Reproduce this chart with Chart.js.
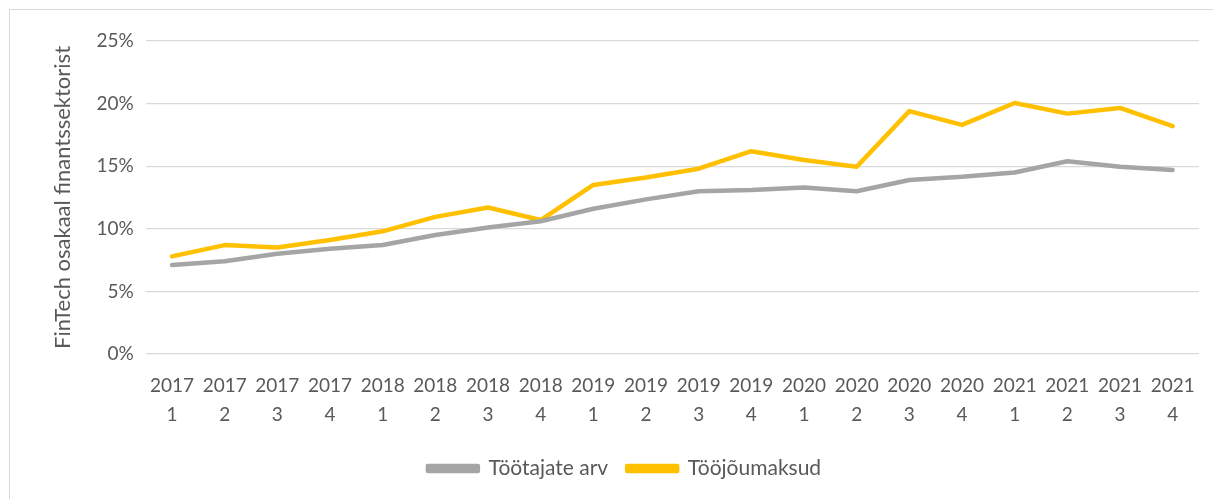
<!DOCTYPE html>
<html>
<head>
<meta charset="utf-8">
<script src="https://cdn.jsdelivr.net/npm/chart.js@4"></script>
<style>
    body { margin: 0; background: #fff; }
    #frame { position: absolute; left: 9px; top: 9px; width: 1300px; height: 600px; border: 1px solid #d9d9d9; }
    #wrap { position: absolute; left: 0; top: 0; width: 1213px; height: 499px; }
</style>
</head>
<body>
<div id="frame"></div>
<div id="wrap"><canvas id="fintechChart"></canvas></div>
<script>

// ======================================================
// Data
// ======================================================

const years = ["2017","2017","2017","2017","2018","2018","2018","2018","2019","2019","2019","2019","2020","2020","2020","2020","2021","2021","2021","2021"];
const quarters = ["1","2","3","4","1","2","3","4","1","2","3","4","1","2","3","4","1","2","3","4"];

const tootajateArv = [7.1, 7.4, 8.0, 8.4, 8.7, 9.5, 10.1, 10.6, 11.6, 12.35, 13.0, 13.1, 13.3, 13.0, 13.9, 14.15, 14.5, 15.4, 14.95, 14.7];
const toojoumaksud = [7.8, 8.7, 8.5, 9.1, 9.8, 10.95, 11.7, 10.7, 13.5, 14.1, 14.8, 16.2, 15.5, 14.95, 19.4, 18.3, 20.05, 19.2, 19.65, 18.2];

const yTicks = [0, 5, 10, 15, 20, 25];

// ======================================================
// Chart
// ======================================================

document.addEventListener("DOMContentLoaded", function () {

    createFintechChart();

});

function createFintechChart() {

    let ctx = document.getElementById("fintechChart");

    if (!ctx) return;

    Chart.defaults.font.family = "Lato, 'Open Sans', sans-serif";
    Chart.defaults.color = "#595959";

    new Chart(ctx, {

        type: "line",

        data: {

            labels: years.map((y, i) => [y, quarters[i]]),

            datasets: [
                {
                    label: "Töötajate arv",
                    data: tootajateArv,
                    borderColor: "#a5a5a5",
                    backgroundColor: "#a5a5a5",
                    borderWidth: 4.5,
                    pointRadius: 0,
                    tension: 0,
                    borderCapStyle: "round",
                    borderJoinStyle: "round"
                },
                {
                    label: "Tööjõumaksud",
                    data: toojoumaksud,
                    borderColor: "#ffc000",
                    backgroundColor: "#ffc000",
                    borderWidth: 4.5,
                    pointRadius: 0,
                    tension: 0,
                    borderCapStyle: "round",
                    borderJoinStyle: "round"
                }
            ]

        },

        options: {

            responsive: true,
            maintainAspectRatio: false,
            animation: false,

            layout: {
                padding: { left: 50, right: 14, top: 41, bottom: 10 }
            },

            plugins: {
                legend: {
                    position: "bottom",
                    labels: {
                        boxWidth: 50,
                        boxHeight: 5,
                        padding: 19,
                        font: { size: 21 },
                        color: "#595959"
                    }
                },
                tooltip: { enabled: false }
            },

            scales: {
                x: {
                    offset: true,
                    grid: { display: false },
                    border: { display: false },
                    ticks: {
                        autoSkip: false,
                        maxRotation: 0,
                        minRotation: 0,
                        padding: 10,
                        font: { size: 19, lineHeight: 1.5 },
                        color: "#595959"
                    }
                },
                y: {
                    min: 0,
                    max: 25,
                    afterBuildTicks: axis => {
                        axis.ticks = yTicks.map(v => ({ value: v }));
                    },
                    grid: { color: "#d9d9d9", lineWidth: 1.3, drawTicks: false },
                    border: { display: false },
                    ticks: {
                        padding: 12,
                        font: { size: 19 },
                        color: "#595959",
                        callback: v => v + "%"
                    },
                    title: {
                        display: true,
                        text: "FinTech osakaal finantssektorist",
                        font: { size: 22 },
                        color: "#595959",
                        padding: { top: 0, bottom: 8 }
                    }
                }
            }

        }

    });

}
</script>
</body>
</html>
